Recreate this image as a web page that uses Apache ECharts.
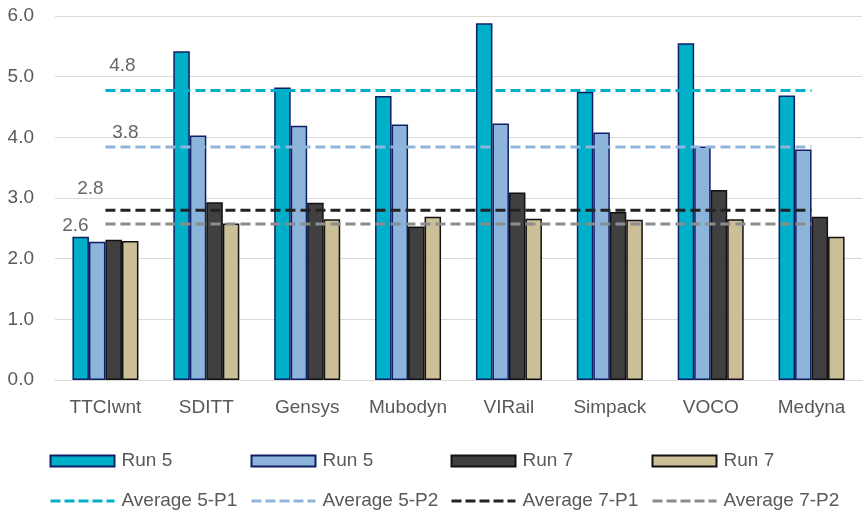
<!DOCTYPE html>
<html><head><meta charset="utf-8">
<script src="https://cdn.jsdelivr.net/npm/echarts@6/dist/echarts.min.js"></script>
<style>html,body{margin:0;padding:0;background:#fff}#c{width:864px;height:517px}</style>
</head><body><div id="c"></div>
<script>
const categories = ['TTCIwnt','SDITT','Gensys','Mubodyn','VIRail','Simpack','VOCO','Medyna'];
const run5P1 = [2.36,5.42,4.82,4.68,5.88,4.75,5.55,4.69];
const run5P2 = [2.28,4.03,4.19,4.21,4.23,4.08,3.85,3.80];
const run7P1 = [2.31,2.93,2.92,2.53,3.09,2.77,3.13,2.69];
const run7P2 = [2.29,2.58,2.65,2.69,2.66,2.64,2.65,2.36];
const averages = [4.77, 3.84, 2.80, 2.57];
const barLabels = ['Run 5','Run 5','Run 7','Run 7'];
const lineLabels = ['Average 5-P1','Average 5-P2','Average 7-P1','Average 7-P2'];

const barKeys = ['Run 5 (P1)','Run 5 (P2)','Run 7 (P1)','Run 7 (P2)'];
const barData = [run5P1, run5P2, run7P1, run7P2];
const barColors = ['#00AFC8','#8DB4DB','#404040','#CBBF98'];
const barBorders = ['#0E1F66','#0E1F66','#111111','#111111'];
const lineColors = ['#00B0CA','#8FB5DD','#222222','#8C8C8C'];
const labelOffsets = [[17.5,-24],[20.5,-13.5],[-14.5,-21],[-29.5,2]];
const legendLefts = [49,250,450,651];

const nameMap = {};
barKeys.forEach((k,i)=>{nameMap[k]=barLabels[i];});
lineLabels.forEach(k=>{nameMap[k]=k;});

const series = [];
barKeys.forEach((k,i)=>{
  series.push({
    name:k, type:'bar', data:barData[i], barWidth:16.5, barGap:'0%',
    itemStyle:{color:barColors[i], borderColor:barBorders[i], borderWidth:1.5},
    z:2
  });
});
lineLabels.forEach((k,i)=>{
  series.push({
    name:k, type:'line', data:categories.map(()=>averages[i]),
    symbol:'none', silent:true, z:5,
    lineStyle:{color:lineColors[i], width:3, type:[10,5]},
    itemStyle:{color:lineColors[i]}
  });
  series.push({
    type:'scatter', data:[[0, averages[i]]], symbolSize:1, silent:true, z:6,
    itemStyle:{color:'rgba(0,0,0,0)'},
    label:{show:true, formatter:p=>p.value[1].toFixed(1), position:labelOffsets[i],
      align:'center', verticalAlign:'middle', fontSize:19, color:'#404040',
      fontFamily:'Liberation Sans'}
  });
});

const chart = echarts.init(document.getElementById('c'), null, {renderer:'canvas'});
chart.setOption({
  animation:false,
  backgroundColor:'#fff',
  textStyle:{fontFamily:'Liberation Sans'},
  grid:{left:55, right:2, top:16, bottom:137, containLabel:false},
  xAxis:{type:'category', data:categories,
    axisTick:{show:false},
    axisLine:{lineStyle:{color:'#D9D9D9', width:1}},
    axisLabel:{interval:0, fontSize:19, color:'#595959', margin:18, fontFamily:'Liberation Sans'}},
  yAxis:{type:'value', min:0, max:6, interval:1,
    axisLine:{show:false}, axisTick:{show:false},
    splitLine:{lineStyle:{color:'#D9D9D9', width:1}},
    axisLabel:{fontSize:19, color:'#595959', margin:21, formatter:v=>v.toFixed(1), fontFamily:'Liberation Sans'}},
  legend:legendLefts.map((l,i)=>({
    left:l, top:451, height:62, orient:'vertical', padding:0,
    itemWidth:64, itemHeight:11, itemGap:20,
    selectedMode:false,
    lineStyle:{width:3, type:[10,4]},
    data:[{name:barKeys[i], icon:'rect'},
          {name:lineLabels[i], itemStyle:{opacity:0, color:'rgba(0,0,0,0)', borderWidth:0}}],
    formatter:n=>nameMap[n],
    textStyle:{fontSize:19, color:'#595959', lineHeight:20, padding:[0,0,0,2], fontFamily:'Liberation Sans'}
  })),
  series:series
});
</script></body></html>
